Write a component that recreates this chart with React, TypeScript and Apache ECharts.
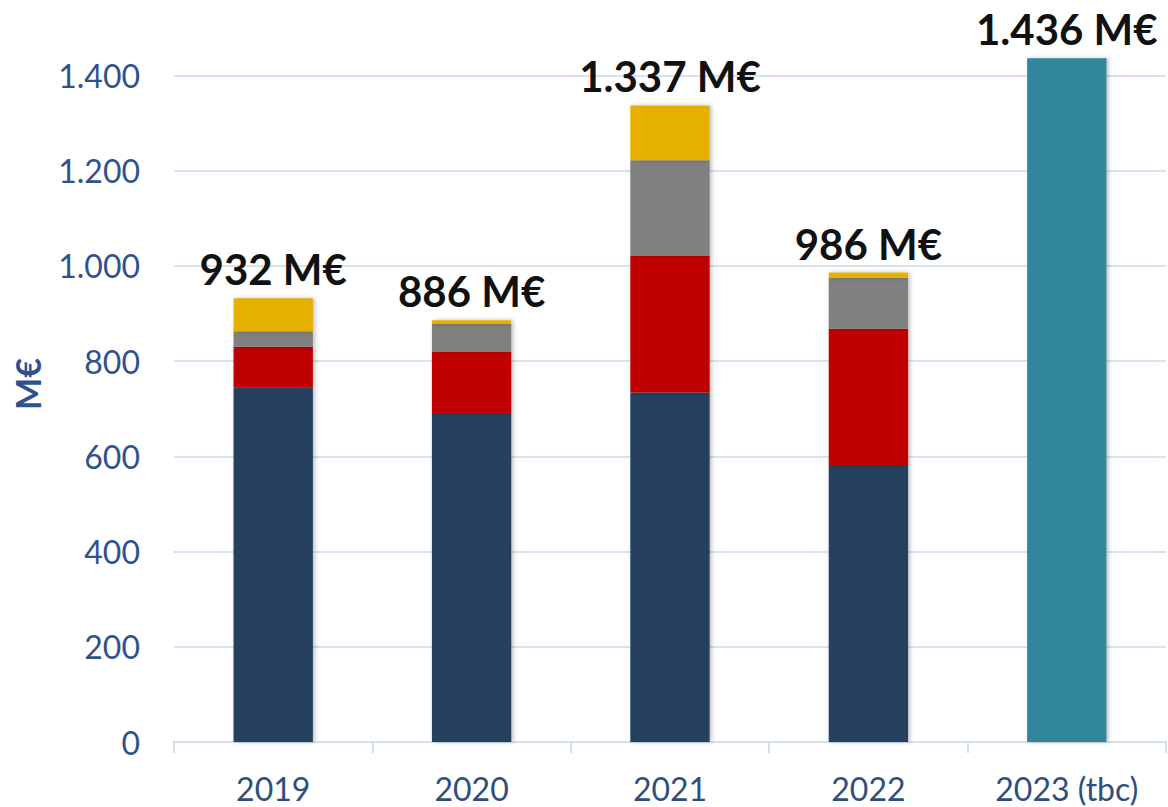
import React, { useEffect, useRef } from "react";
import * as echarts from "echarts";

const categories = ["2019", "2020", "2021", "2022", "2023 (tbc)"];
const navyValues = [745, 689, 734, 580, null];
const redValues = [85, 131, 287, 288, null];
const greyValues = [33, 58, 201, 107, null];
const yellowValues = [69, 8, 115, 11, null];
const tealValues = [null, null, null, null, 1436];
const totals = [932, 886, 1337, 986, 1436];
const yTicks = [0, 200, 400, 600, 800, 1000, 1200, 1400];

const fmt = (v: number) => String(v).replace(/\B(?=(\d{3})+(?!\d))/g, ".");

export default function App() {
  const ref = useRef<HTMLDivElement>(null);
  useEffect(() => {
    if (!ref.current) return;
    const chart = echarts.init(ref.current, null, { renderer: "svg" });
    const shadow = {
      shadowColor: "rgba(0,0,0,0.25)",
      shadowBlur: 4,
      shadowOffsetX: 2,
      shadowOffsetY: 0,
    };
    const seg = (name: string, data: any[], color: string) => ({
      name,
      type: "bar",
      stack: "a",
      data,
      clip: false,
      barCategoryGap: "60%",
      itemStyle: { color, ...shadow },
    });
    chart.setOption({
      animation: false,
      grid: { left: 174, right: 2, top: 75.5, bottom: 65, containLabel: false },
      xAxis: {
        type: "category",
        data: categories,
        axisLine: { show: true, lineStyle: { color: "#D3E0F0", width: 2 } },
        axisTick: { show: true, length: 11, lineStyle: { color: "#D3E0F0", width: 2 } },
        axisLabel: {
          color: "#2E4E7E",
          fontFamily: "Lato",
          fontSize: 32,
          lineHeight: 32,
          margin: 30,
        },
      },
      yAxis: {
        type: "value",
        min: yTicks[0],
        max: yTicks[yTicks.length - 1],
        interval: 200,
        axisLine: { show: false },
        axisTick: { show: false },
        splitLine: { lineStyle: { color: "#D6E3F3", width: 2 } },
        axisLabel: {
          color: "#2F528F",
          fontFamily: "Lato",
          fontSize: 32,
          margin: 34,
          formatter: (v: number) => fmt(v),
        },
      },
      graphic: [
        {
          type: "text",
          x: 27,
          y: 384,
          rotation: Math.PI / 2,
          style: {
            text: "M€",
            fill: "#2F528F",
            font: "bold 34px Lato",
            align: "center",
            verticalAlign: "middle",
          },
        },
      ],
      series: [
        seg("navy", navyValues, "#264061"),
        seg("red", redValues, "#C00000"),
        seg("grey", greyValues, "#808080"),
        seg("yellow", yellowValues, "#E6B000"),
        seg("teal", tealValues, "#31869B"),
        {
          name: "total",
          type: "bar",
          data: totals,
          barGap: "-100%",
          barCategoryGap: "60%",
          clip: false,
          z: 1,
          itemStyle: { color: "rgba(0,0,0,0)" },
          label: {
            show: true,
            position: "top",
            distance: 8,
            color: "#111111",
            fontFamily: "Lato",
            fontWeight: "bold",
            fontSize: 42,
            formatter: (p: any) => fmt(p.value) + " M€",
          },
        },
      ],
    });
    return () => chart.dispose();
  }, []);
  return (
    <div
      ref={ref}
      style={{ position: "fixed", left: 0, top: 0, width: 1168, height: 807, background: "#fff" }}
    />
  );
}
